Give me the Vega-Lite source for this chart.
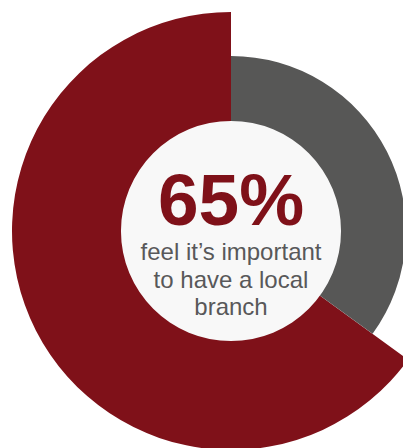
{
  "$schema": "https://vega.github.io/schema/vega-lite/v6.json",
  "width": 344,
  "height": 434,
  "autosize": {"type": "none"},
  "padding": {"left": 59, "top": 14, "right": 0, "bottom": 0},
  "background": "#ffffff",
  "config": {"view": {"stroke": null}},
  "datasets": {
    "slices": [
      {"answer": "No", "value": 35},
      {"answer": "Yes", "value": 65}
    ],
    "labels": [
      {"kind": "big", "text": "65%"},
      {"kind": "small", "text": ["feel it’s important", "to have a local", "branch"]}
    ]
  },
  "layer": [
    {
      "data": {"name": "slices"},
      "transform": [
        {"stack": "value", "groupby": [], "sort": [{"field": "answer", "order": "ascending"}], "as": ["v0", "v1"]},
        {"filter": "datum.answer === 'Yes'"}
      ],
      "mark": {"type": "arc", "outerRadius": 219, "innerRadius": 0, "fill": "#7f1119"},
      "encoding": {
        "theta": {"field": "v0", "type": "quantitative", "scale": {"domain": [0, 100]}},
        "theta2": {"field": "v1"}
      }
    },
    {
      "data": {"name": "slices"},
      "transform": [
        {"stack": "value", "groupby": [], "sort": [{"field": "answer", "order": "ascending"}], "as": ["v0", "v1"]},
        {"filter": "datum.answer === 'No'"}
      ],
      "mark": {"type": "arc", "outerRadius": 175, "innerRadius": 0, "fill": "#575756"},
      "encoding": {
        "theta": {"field": "v0", "type": "quantitative"},
        "theta2": {"field": "v1"}
      }
    },
    {
      "data": {"name": "slices"},
      "transform": [{"filter": "datum.answer === 'Yes'"}],
      "mark": {"type": "arc", "outerRadius": 110, "innerRadius": 0, "fill": "#f8f8f8"},
      "encoding": {
        "theta": {"datum": 0, "type": "quantitative"},
        "theta2": {"datum": 100}
      }
    },
    {
      "data": {"name": "labels"},
      "transform": [{"filter": "datum.kind === 'big'"}],
      "mark": {"type": "text", "font": "Liberation Sans", "fontWeight": "bold", "fontSize": 73, "fill": "#7f1119", "align": "center", "baseline": "alphabetic", "dy": -6},
      "encoding": {"text": {"field": "text"}}
    },
    {
      "data": {"name": "labels"},
      "transform": [{"filter": "datum.kind === 'small'"}],
      "mark": {"type": "text", "font": "Liberation Sans", "fontWeight": "normal", "fontSize": 24, "fill": "#58585a", "align": "center", "baseline": "alphabetic", "lineHeight": 27.5, "dy": 29},
      "encoding": {"text": {"field": "text"}}
    }
  ]
}
